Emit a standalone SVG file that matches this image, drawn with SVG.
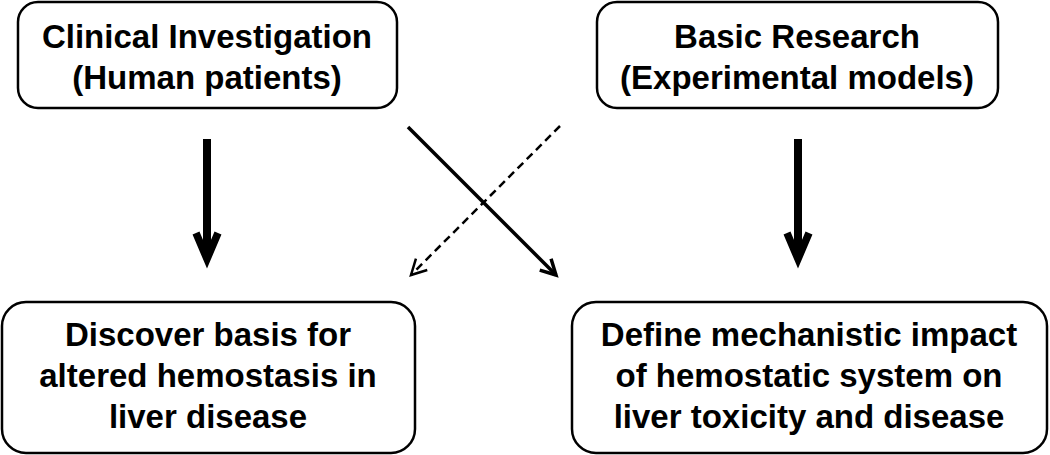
<svg xmlns="http://www.w3.org/2000/svg" width="1050" height="455" viewBox="0 0 1050 455">
<style>
.box{fill:#fff;stroke:#000;stroke-width:2.5}
.t{font-family:"Liberation Sans",Arial,sans-serif;font-weight:bold;font-size:33px;fill:#000;text-anchor:middle}
.thick{stroke:#000;stroke-width:8;fill:none}
.thin{stroke:#000;stroke-width:3.5;fill:none}
.dash{stroke:#000;stroke-width:2.5;fill:none;stroke-dasharray:8 5}
</style>
<defs>
<marker id="hBig" markerUnits="userSpaceOnUse" orient="auto" refX="0" refY="0" markerWidth="40" markerHeight="40" overflow="visible">
<path d="M-26,-11 L0,0 L-26,11" fill="none" stroke="#000" stroke-width="7.5"/>
</marker>
<marker id="hSmall" markerUnits="userSpaceOnUse" orient="auto" refX="0" refY="0" markerWidth="30" markerHeight="30" overflow="visible">
<path d="M-15,-8 L0,0 L-15,8" fill="none" stroke="#000" stroke-width="3.5"/>
</marker>
<marker id="hDash" markerUnits="userSpaceOnUse" orient="auto" refX="0" refY="0" markerWidth="30" markerHeight="30" overflow="visible">
<path d="M-15,-8 L0,0 L-15,8" fill="none" stroke="#000" stroke-width="2.5"/>
</marker>
</defs>
<g id="clinical">
<rect class="box" x="18" y="2" width="379" height="106" rx="20"/>
<text class="t" x="207" y="48">Clinical Investigation</text>
<text class="t" x="207" y="89">(Human patients)</text>
</g>
<g id="basic">
<rect class="box" x="597" y="2" width="401" height="106" rx="20"/>
<text class="t" x="797" y="48">Basic Research</text>
<text class="t" x="797" y="89">(Experimental models)</text>
</g>
<g id="discover">
<rect class="box" x="2" y="302" width="413" height="151" rx="24"/>
<text class="t" x="208" y="346">Discover basis for</text>
<text class="t" x="208" y="387">altered hemostasis in</text>
<text class="t" x="208" y="428">liver disease</text>
</g>
<g id="define">
<rect class="box" x="572" y="302" width="475" height="151" rx="24"/>
<text class="t" x="809" y="346">Define mechanistic impact</text>
<text class="t" x="809" y="387">of hemostatic system on</text>
<text class="t" x="809" y="428">liver toxicity and disease</text>
</g>
<g id="connectors">
<line class="thick" x1="207" y1="139" x2="207" y2="259" marker-end="url(#hBig)"/>
<line class="thick" x1="798" y1="139" x2="798" y2="259" marker-end="url(#hBig)"/>
<line class="thin" x1="408" y1="127" x2="556" y2="275" marker-end="url(#hSmall)"/>
<line class="dash" x1="560" y1="126" x2="411" y2="275" marker-end="url(#hDash)"/>
</g>
</svg>
